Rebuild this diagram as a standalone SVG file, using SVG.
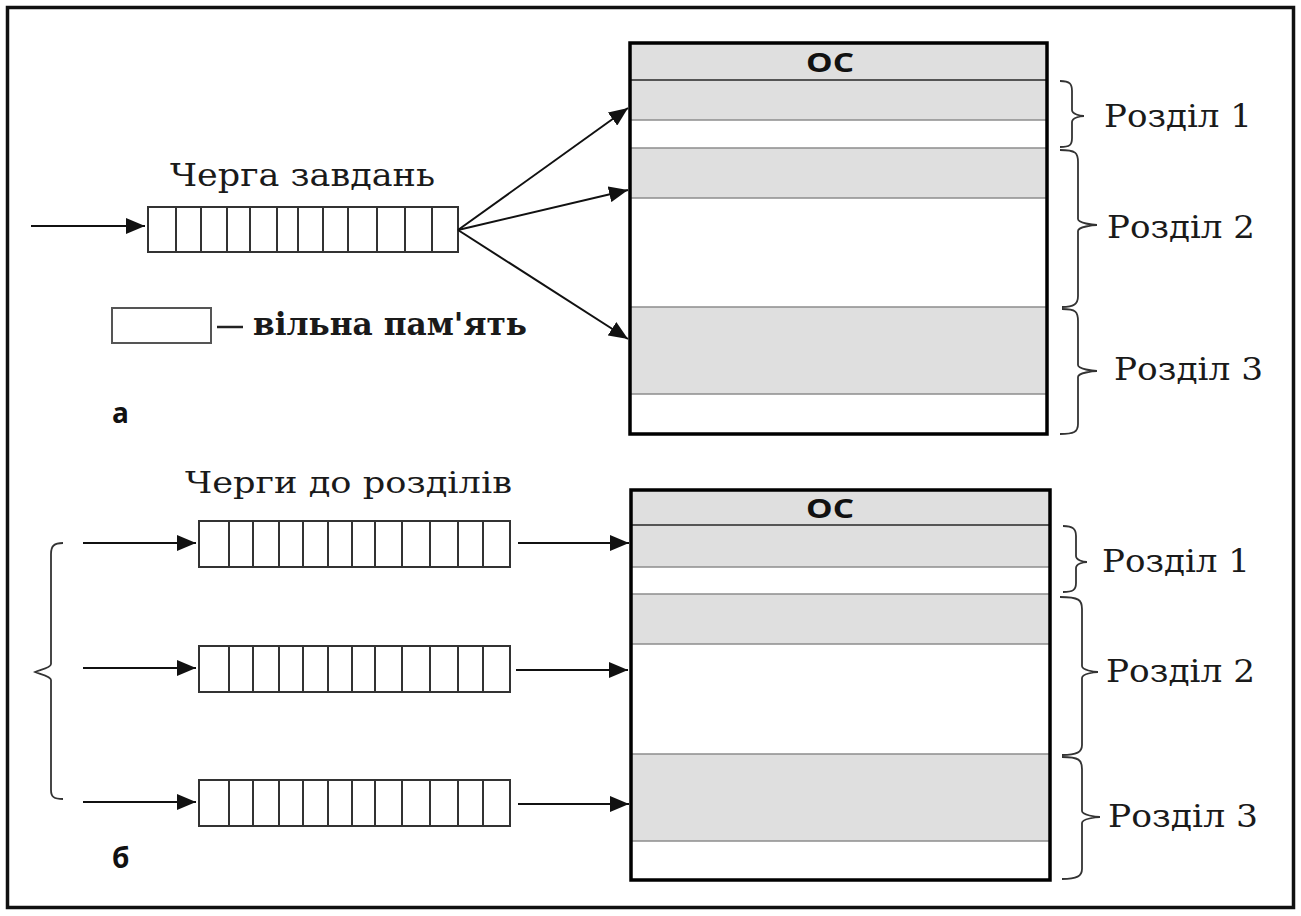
<svg xmlns="http://www.w3.org/2000/svg" width="1301" height="916" viewBox="0 0 1301 916">
<style>
.frame{fill:none;stroke:#111;stroke-width:3.5}
.blk{fill:none;stroke:#000;stroke-width:3.5}
.band{fill:#dfdfdf}
.sep{stroke:#8c8c8c;stroke-width:1.6}
.sepd{stroke:#555;stroke-width:2}
.q{fill:#fff;stroke:#333;stroke-width:2}
.qd{stroke:#333;stroke-width:2}
.arr{stroke:#111;stroke-width:2;fill:none;marker-end:url(#ah)}
.brace{fill:none;stroke:#333;stroke-width:1.8}
.lbl{font-family:"DejaVu Serif","Liberation Serif",serif;fill:#1a1a1a}
.sans{font-family:"Open Sans","DejaVu Sans",sans-serif;font-weight:bold;fill:#111}
</style>
<defs>
<marker id="ah" markerUnits="userSpaceOnUse" markerWidth="22" markerHeight="16" refX="19" refY="8" orient="auto">
<path d="M0,0 L19,8 L0,16 z" fill="#111"/>
</marker>
</defs>
<rect width="1301" height="916" fill="#fff"/>
<rect class="frame" x="7.5" y="7.5" width="1286" height="900"/>

<g id="memory-a">
<rect x="630" y="43" width="417" height="391" fill="#fff"/>
<rect class="band" x="630" y="43" width="417" height="37"/>
<rect class="band" x="630" y="80" width="417" height="40"/>
<rect class="band" x="630" y="148" width="417" height="50"/>
<rect class="band" x="630" y="307" width="417" height="87"/>
<line class="sepd" x1="630" y1="80" x2="1047" y2="80"/>
<line class="sep" x1="630" y1="120" x2="1047" y2="120"/>
<line class="sep" x1="630" y1="148" x2="1047" y2="148"/>
<line class="sep" x1="630" y1="198" x2="1047" y2="198"/>
<line class="sep" x1="630" y1="307" x2="1047" y2="307"/>
<line class="sep" x1="630" y1="394" x2="1047" y2="394"/>
<rect class="blk" x="630" y="43" width="417" height="391"/>
<text class="sans" x="830" y="72" font-size="27" text-anchor="middle" textLength="48" lengthAdjust="spacingAndGlyphs">ОС</text>
</g>

<g id="memory-b">
<rect x="631" y="490" width="419" height="390" fill="#fff"/>
<rect class="band" x="631" y="490" width="419" height="35"/>
<rect class="band" x="631" y="525" width="419" height="42"/>
<rect class="band" x="631" y="594" width="419" height="50"/>
<rect class="band" x="631" y="754" width="419" height="87"/>
<line class="sepd" x1="631" y1="525" x2="1050" y2="525"/>
<line class="sep" x1="631" y1="567" x2="1050" y2="567"/>
<line class="sep" x1="631" y1="594" x2="1050" y2="594"/>
<line class="sep" x1="631" y1="644" x2="1050" y2="644"/>
<line class="sep" x1="631" y1="754" x2="1050" y2="754"/>
<line class="sep" x1="631" y1="841" x2="1050" y2="841"/>
<rect class="blk" x="631" y="490" width="419" height="390"/>
<text class="sans" x="830" y="518" font-size="27" text-anchor="middle" textLength="48" lengthAdjust="spacingAndGlyphs">ОС</text>
</g>

<g id="queue-a">
<rect class="q" x="148" y="207" width="310" height="45"/>
<path class="qd" d="M176,207V252M201,207V252M227,207V252M250,207V252M277,207V252M298,207V252M323,207V252M348,207V252M377,207V252M405,207V252M432,207V252"/>
<text class="lbl" x="170" y="186" font-size="31" textLength="265" lengthAdjust="spacingAndGlyphs">Черга завдань</text>
</g>

<g id="legend">
<rect x="112" y="308" width="99" height="35" fill="#fff" stroke="#555" stroke-width="2"/>
<line x1="217" y1="327" x2="243" y2="327" stroke="#222" stroke-width="2.5"/>
<text class="lbl" x="253" y="335" font-size="32" font-weight="bold" textLength="274" lengthAdjust="spacingAndGlyphs">вільна пам'ять</text>
</g>

<g id="queue-b1">
<rect class="q" x="199" y="521" width="311" height="46"/>
<path class="qd" d="M229,521V567M253,521V567M279,521V567M303,521V567M328,521V567M352,521V567M375,521V567M402,521V567M430,521V567M458,521V567M483,521V567"/>
</g>
<g id="queue-b2">
<rect class="q" x="199" y="646" width="311" height="46"/>
<path class="qd" d="M229,646V692M253,646V692M279,646V692M303,646V692M328,646V692M352,646V692M375,646V692M402,646V692M430,646V692M458,646V692M483,646V692"/>
</g>
<g id="queue-b3">
<rect class="q" x="199" y="780" width="311" height="46"/>
<path class="qd" d="M229,780V826M253,780V826M279,780V826M303,780V826M328,780V826M352,780V826M375,780V826M402,780V826M430,780V826M458,780V826M483,780V826"/>
</g>
<text class="lbl" x="185" y="493" font-size="30" textLength="327" lengthAdjust="spacingAndGlyphs">Черги до розділів</text>

<g id="connectors">
<line class="arr" x1="31" y1="226" x2="145" y2="226"/>
<line class="arr" x1="458" y1="230" x2="628" y2="108"/>
<line class="arr" x1="458" y1="230" x2="628" y2="190"/>
<line class="arr" x1="458" y1="230" x2="628" y2="339"/>
<line class="arr" x1="83" y1="543" x2="196" y2="543"/>
<line class="arr" x1="83" y1="668" x2="196" y2="668"/>
<line class="arr" x1="83" y1="802" x2="196" y2="802"/>
<line class="arr" x1="518" y1="543" x2="629" y2="543"/>
<line class="arr" x1="516" y1="670" x2="628" y2="670"/>
<line class="arr" x1="518" y1="804" x2="629" y2="804"/>
</g>

<g id="braces">
<path class="brace" d="M1060,81 C1070,81 1072,84 1072,91 L1072,110 C1072,114 1080,116 1084,116 C1080,116 1072,118 1072,122 L1072,138 C1072,145 1070,147 1060,147"/>
<path class="brace" d="M1060,150 C1076,150 1078,153 1078,162 L1078,219 C1078,223 1093,225 1097,225 C1093,225 1078,227 1078,231 L1078,296 C1078,304 1074,307 1062,307"/>
<path class="brace" d="M1062,309 C1076,309 1078,312 1078,321 L1078,365 C1078,369 1093,371 1097,371 C1093,371 1078,373 1078,377 L1078,424 C1078,432 1074,434 1060,434"/>
<path class="brace" d="M1063,526 C1073,526 1076,529 1076,536 L1076,556 C1076,560 1083,562 1087,562 C1083,562 1076,564 1076,568 L1076,583 C1076,590 1073,592 1063,592"/>
<path class="brace" d="M1060,597 C1079,597 1082,600 1082,609 L1082,666 C1082,670 1094,672 1098,672 C1094,672 1082,674 1082,678 L1082,745 C1082,752 1077,755 1062,755"/>
<path class="brace" d="M1062,757 C1079,757 1082,760 1082,769 L1082,811 C1082,815 1096,817 1100,817 C1096,817 1082,819 1082,823 L1082,869 C1082,876 1077,879 1062,879"/>
<path class="brace" d="M63,543 C54,543 51,546 51,554 L51,664 C51,668 39,670 35,672 C39,674 51,676 51,680 L51,790 C51,797 54,799 63,799"/>
</g>

<g id="labels">
<text class="lbl" x="1104" y="127" font-size="31" textLength="148" lengthAdjust="spacingAndGlyphs">Розділ 1</text>
<text class="lbl" x="1107" y="238" font-size="31" textLength="148" lengthAdjust="spacingAndGlyphs">Розділ 2</text>
<text class="lbl" x="1114" y="380" font-size="31" textLength="149" lengthAdjust="spacingAndGlyphs">Розділ 3</text>
<text class="lbl" x="1102" y="572" font-size="31" textLength="148" lengthAdjust="spacingAndGlyphs">Розділ 1</text>
<text class="lbl" x="1106" y="682" font-size="31" textLength="149" lengthAdjust="spacingAndGlyphs">Розділ 2</text>
<text class="lbl" x="1108" y="827" font-size="31" textLength="150" lengthAdjust="spacingAndGlyphs">Розділ 3</text>
<text class="sans" x="112" y="423" font-size="28">а</text>
<text class="sans" x="112" y="868" font-size="28">б</text>
</g>
</svg>
